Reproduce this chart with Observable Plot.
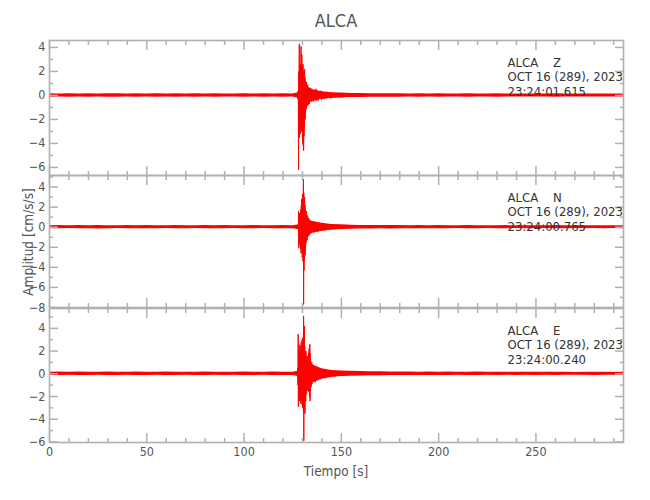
<!DOCTYPE html>
<html><head><meta charset="utf-8">
<script src="https://cdn.jsdelivr.net/npm/d3@7"></script>
<script src="https://cdn.jsdelivr.net/npm/@observablehq/plot@0.6"></script>
<style>
body{margin:0;background:#fff;}
#wrap{position:relative;width:650px;height:500px;font-family:'Liberation Sans Narrow','DejaVu Sans Condensed',sans-serif;}
#wrap svg{position:absolute;left:0;}
.t{position:absolute;color:#555;white-space:nowrap;}
</style></head><body>
<div id="wrap"></div>
<script>
// ---------- data (amplitudes in cm/s/s) ----------
// noise band half-width: t = 0..295 every 5 s
// burst: t = 127.0..135.0 every 0.1 s ; coda: t = 135.4..151.0 every 0.4 s
const zNoise = [.14,.13,.15,.13,.14,.12,.14,.15,.13,.14,
.13,.14,.12,.14,.13,.15,.13,.14,.12,.13,
.14,.13,.15,.13,.14,.13,.3,.5,.3,.22,
.2,.17,.16,.15,.14,.15,.14,.13,.14,.13,
.14,.13,.13,.14,.12,.13,.14,.13,.12,.13,
.13,.12,.14,.13,.12,.13,.12,.13,.12,.13];
const zBurst = [.1,-.1,.15,-.1,.1,-.2,.2,-.3,.4,-1.2,
-6.2,2.0,-2.5,3.0,4.3,-3.5,2.5,-2.8,1.8,-3.2,
2.6,-2.0,3.2,4.1,-2.5,2.8,-3.0,3.4,-2.6,2.4,
-3.6,2.2,-4.0,2.6,-4.2,1.8,-4.6,2.0,-3.4,1.6,
-2.6,2.2,-1.8,1.5,-2.0,1.2,-1.4,1.0,-1.2,.9,
-1.0,1.1,-.8,.7,-.9,.8,-.6,.9,-.7,.6,
-.8,.5,-.6,.7,-.5,.6,-.7,.5,-.4,.6,
-.5,.4,-.5,.6,-.4,.5,-.3,.4,-.5,.3,
-.4];
const zCoda = [.45,-.5,.35,-.4,.55,-.45,.3,-.4,.35,-.3,
.4,-.35,.3,-.3,.25,-.3,.28,-.25,.3,-.22,
.25,-.2,.22,-.25,.2,-.2,.22,-.18,.2,-.2,
.18,-.16,.2,-.17,.15,-.18,.16,-.15,.17,-.14];

const nNoise = [.15,.16,.14,.16,.15,.17,.15,.14,.16,.15,
.16,.15,.14,.16,.15,.14,.16,.15,.16,.14,
.15,.16,.14,.15,.16,.15,.3,.6,.4,.28,
.24,.2,.18,.17,.16,.17,.16,.15,.16,.15,
.16,.15,.14,.16,.15,.14,.15,.16,.14,.15,
.15,.14,.16,.15,.14,.15,.14,.15,.14,.15];
const nBurst = [.1,-.12,.1,-.1,.15,-.1,.12,-.15,.2,-.3,
1.6,-2.1,1.2,-1.5,1.0,-1.3,1.4,-1.8,1.1,-1.6,
1.5,-2.2,1.8,-2.6,2.2,-1.9,2.8,-2.4,2.5,-3.0,
3.3,-2.8,2.6,-3.4,3.0,4.8,-7.7,3.4,-4.3,2.6,
-3.2,3.0,-2.5,2.2,-2.8,1.8,-2.0,1.5,-1.6,1.3,
-1.4,1.6,-1.1,1.2,-1.3,.9,-1.0,1.1,-.8,.9,
-.9,.7,-.8,.9,-.6,.7,-.8,.6,-.7,.5,
-.6,.7,-.5,.6,-.5,.4,-.6,.5,-.4,.5,
-.4];
const nCoda = [.5,-.55,.4,-.45,.5,-.4,.35,-.45,.4,-.35,
.3,-.35,.38,-.3,.28,-.32,.3,-.25,.28,-.26,
.22,-.25,.24,-.2,.22,-.22,.2,-.2,.18,-.2,
.2,-.17,.16,-.18,.17,-.15,.16,-.16,.15,-.14];

const eNoise = [.14,.15,.13,.15,.14,.13,.15,.14,.13,.15,
.14,.13,.15,.14,.13,.14,.15,.13,.14,.13,
.15,.14,.13,.15,.14,.14,.3,.8,.45,.3,
.24,.22,.2,.18,.17,.16,.16,.15,.14,.15,
.14,.15,.13,.14,.15,.13,.14,.13,.14,.13,
.14,.13,.14,.13,.12,.13,.14,.13,.12,.13];
const eBurst = [.1,-.12,.1,-.15,.2,-.3,.5,-1.0,3.5,-2.9,
2.2,-2.0,2.6,-1.8,2.0,-2.4,1.6,-2.2,2.5,-1.9,
2.2,-2.6,1.8,-2.0,2.8,-2.3,2.0,-2.7,3.0,-2.2,
2.4,-3.0,3.2,-2.5,2.6,-3.4,5.1,-5.9,2.8,-3.2,
4.2,-2.8,2.4,-3.5,2.0,-2.2,1.8,-2.4,2.0,-1.6,
1.5,-1.8,1.3,-1.4,1.6,-1.2,1.1,-1.5,1.2,-1.0,
1.4,-1.1,1.8,-1.6,2.2,-1.4,1.5,-2.0,2.6,-2.4,
1.8,-1.5,1.3,-1.2,1.0,-1.1,.9,-.8,1.0,-.9,
.7];
const eCoda = [.8,-.7,.6,-.75,.55,-.6,.5,-.55,.45,-.5,
.4,-.45,.42,-.38,.35,-.4,.32,-.35,.3,-.3,
.28,-.3,.26,-.25,.24,-.26,.22,-.22,.2,-.22,
.2,-.18,.19,-.2,.17,-.18,.16,-.17,.15,-.15];

const xMajor = [0, 50, 100, 150, 200, 250];
const xMinor = [10,20,30,40,60,70,80,90,110,120,130,140,160,170,180,190,210,220,230,240,260,270,280,290];
const zTicks = [-6,-4,-2,0,2,4], zMinor = [-5,-3,-1,1,3];
const nTicks = [-8,-6,-4,-2,0,2,4], nMinor = [-7,-5,-3,-1,1,3,5];
const eTicks = [-6,-4,-2,0,2,4], eMinor = [-5,-3,-1,1,3,5];
const zInfo = "ALCA\u00a0\u00a0\u00a0\u00a0Z\nOCT 16 (289), 2023\n23:24:01.615";
const nInfo = "ALCA\u00a0\u00a0\u00a0\u00a0N\nOCT 16 (289), 2023\n23:24:00.765";
const eInfo = "ALCA\u00a0\u00a0\u00a0\u00a0E\nOCT 16 (289), 2023\n23:24:00.240";

function band(noise) { return noise.map((h, i) => ({t: i * 5, lo: -h, hi: h})); }
function trace(burst, coda) {
  const out = [];
  burst.forEach((v, i) => out.push({t: 127 + i * 0.1, v}));
  coda.forEach((v, i) => out.push({t: 135.4 + i * 0.4, v}));
  return out;
}

const FONT = "'Liberation Sans Narrow','DejaVu Sans Condensed',sans-serif";
const AX = "#b0b0b0", LAB = "#555";
const none = () => "";

function panel({noise, burst, coda, yDomain, ticks, minor, info, height, mt, mb, bottomLabels}) {
  const tk = {tickFormat: none, stroke: AX, strokeWidth: 1.5, label: null};
  const marks = [
    Plot.areaY(band(noise), {x: "t", y1: "lo", y2: "hi", fill: "#ff0000", curve: "linear"}),
    Plot.lineY(trace(burst, coda), {x: "t", y: "v", stroke: "#ff0000", strokeWidth: 1}),
    Plot.frame({stroke: AX, strokeWidth: 1.6}),
    Plot.axisY(ticks, {anchor: "left", tickSize: 0, tickPadding: 4, fill: LAB, fontSize: 12.5, label: null}),
    Plot.axisY(ticks, {anchor: "left", tickSize: -9, ...tk}),
    Plot.axisY(minor, {anchor: "left", tickSize: -4, ...tk}),
    Plot.axisY(ticks, {anchor: "right", tickSize: -9, ...tk}),
    Plot.axisY(minor, {anchor: "right", tickSize: -4, ...tk}),
    Plot.axisX(xMajor, {anchor: "top", tickSize: -9, ...tk}),
    Plot.axisX(xMinor, {anchor: "top", tickSize: -4, ...tk}),
    Plot.axisX(xMajor, {anchor: "bottom", tickSize: -9, ...tk}),
    Plot.axisX(xMinor, {anchor: "bottom", tickSize: -4, ...tk}),
    Plot.text([info], {frameAnchor: "top-left", dx: 458, dy: 16, lineAnchor: "top", textAnchor: "start", fontSize: 13, fill: "#333", lineHeight: 1.12})
  ];
  if (bottomLabels) marks.push(Plot.axisX(xMajor, {anchor: "bottom", tickSize: 0, tickPadding: 5, fill: LAB, fontSize: 12.5, label: null}));
  return Plot.plot({
    width: 650, height, marginLeft: 49, marginRight: 27, marginTop: mt, marginBottom: mb,
    x: {domain: [0, 295]},
    y: {domain: yDomain},
    style: {background: "transparent", overflow: "visible", fontFamily: FONT},
    marks
  });
}

const wrap = document.getElementById("wrap");
const p1 = panel({noise: zNoise, burst: zBurst, coda: zCoda, yDomain: [-6.67, 4.58], ticks: zTicks, minor: zMinor, info: zInfo, height: 175, mt: 40, mb: 0});
const p2 = panel({noise: nNoise, burst: nBurst, coda: nCoda, yDomain: [-8, 5.15], ticks: nTicks, minor: nMinor, info: nInfo, height: 132, mt: 0, mb: 0});
const p3 = panel({noise: eNoise, burst: eBurst, coda: eCoda, yDomain: [-6.05, 5.75], ticks: eTicks, minor: eMinor, info: eInfo, height: 191, mt: 0, mb: 57, bottomLabels: true});
p1.style.top = "0px"; p2.style.top = "175px"; p3.style.top = "308px";
wrap.append(p1, p2, p3);

const title = document.createElement("div");
title.className = "t"; title.textContent = "ALCA";
Object.assign(title.style, {left: "336px", top: "20px", transform: "translate(-50%,-50%)", fontSize: "18px"});
const xl = document.createElement("div");
xl.className = "t"; xl.textContent = "Tiempo [s]";
Object.assign(xl.style, {left: "336px", top: "471px", transform: "translate(-50%,-50%)", fontSize: "13.5px"});
const yl = document.createElement("div");
yl.className = "t"; yl.textContent = "Amplitud [cm/s/s]";
Object.assign(yl.style, {left: "28px", top: "242px", transform: "translate(-50%,-50%) rotate(-90deg)", fontSize: "13.5px"});
wrap.append(title, xl, yl);
</script>
</body></html>
